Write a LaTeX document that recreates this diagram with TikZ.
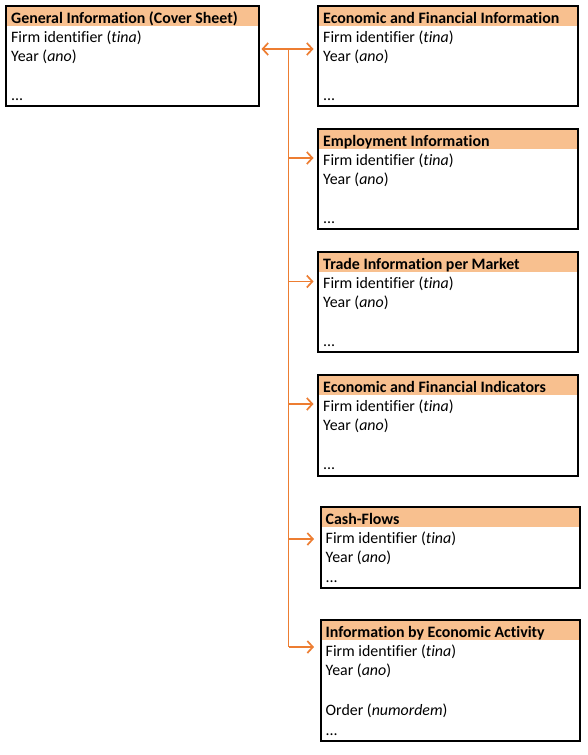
\documentclass[tikz,border=0pt]{standalone}
\usepackage{fontspec}
\setmainfont[Ligatures=NoCommon]{Carlito}
\usetikzlibrary{arrows.meta}
\definecolor{hdr}{HTML}{F8C08F}
\definecolor{arr}{HTML}{ED7D31}
\tikzset{
  boxline/.style={draw=black, line width=2pt},
  hdrtext/.style={anchor=base west, inner sep=0pt, font=\fontsize{15.9pt}{19pt}\selectfont\bfseries},
  rowtext/.style={anchor=base west, inner sep=0pt, font=\fontsize{15.9pt}{19pt}\selectfont},
  conn/.style={draw=arr, line width=1.7pt},
  tip/.style={-{Straight Barb[length=5.5pt,width=12pt,line width=1.7pt]}}
}
\newcommand\mkbox[6]{%
  \node[anchor=north west, minimum width=#4pt, minimum height=#5pt, inner sep=0pt, outer sep=0pt] (#1) at (#2,#3) {};
  \fill[hdr] (#1.north west) rectangle ([yshift=-20pt]#1.north east);
  \draw[boxline] (#1.north west) rectangle (#1.south east);
  \node[hdrtext] (#1-h) at ([xshift=5pt,yshift=-17pt]#1.north west) {#6};
}
\newcommand\rowat[3]{%
  \node[rowtext] (#1-#2) at ([xshift=5pt,yshift=-#2pt]#1.north west) {#3};
}
\begin{document}
\begin{tikzpicture}[x=1pt,y=-1pt]
\useasboundingbox (0,0) rectangle (587,755);
\fill[white] (0,0) rectangle (587,755);

\mkbox{b1}{6}{6}{253}{100}{General Information (Cover Sheet)}
\rowat{b1}{36.5}{Firm identifier (\textit{tina})}
\rowat{b1}{55.5}{Year (\textit{ano})}
\rowat{b1}{94.5}{...}

\mkbox{b2}{318}{6}{260}{100}{Economic and Financial Information}
\rowat{b2}{36.5}{Firm identifier (\textit{tina})}
\rowat{b2}{55.5}{Year (\textit{ano})}
\rowat{b2}{94.5}{...}

\mkbox{b3}{318}{129}{260}{100}{Employment Information}
\rowat{b3}{36.5}{Firm identifier (\textit{tina})}
\rowat{b3}{55.5}{Year (\textit{ano})}
\rowat{b3}{94.5}{...}

\mkbox{b4}{318}{252}{260}{100}{Trade Information per Market}
\rowat{b4}{36.5}{Firm identifier (\textit{tina})}
\rowat{b4}{55.5}{Year (\textit{ano})}
\rowat{b4}{94.5}{...}

\mkbox{b5}{318}{375}{260}{101}{Economic and Financial Indicators}
\rowat{b5}{36.5}{Firm identifier (\textit{tina})}
\rowat{b5}{55.5}{Year (\textit{ano})}
\rowat{b5}{94.5}{...}

\mkbox{b6}{320.5}{507}{259.5}{80.5}{Cash-Flows}
\rowat{b6}{36.5}{Firm identifier (\textit{tina})}
\rowat{b6}{55.5}{Year (\textit{ano})}
\rowat{b6}{75.5}{...}

\mkbox{b7}{320.5}{620}{259.5}{121}{Information by Economic Activity}
\rowat{b7}{36.5}{Firm identifier (\textit{tina})}
\rowat{b7}{55.5}{Year (\textit{ano})}
\rowat{b7}{95.5}{Order (\textit{numordem})}
\rowat{b7}{115.5}{...}

% connectors
\coordinate (top) at (288.5,49);
\coordinate (bot) at (288.5,647);
\draw[conn] (top) -- (bot);
\draw[conn,tip,shorten >=2.5pt] (top) -- (b1.east |- top);
\draw[conn,tip,shorten >=4.5pt] (top) -- (b2.west |- top);
\draw[conn,tip,shorten >=4.5pt] (top |- 0,158) -- (b3.west |- 0,158);
\draw[conn,tip,shorten >=4.5pt] (top |- 0,281.5) -- (b4.west |- 0,281.5);
\draw[conn,tip,shorten >=4.5pt] (top |- 0,404) -- (b5.west |- 0,404);
\draw[conn,tip,shorten >=6.5pt] (top |- 0,539) -- (b6.west |- 0,539);
\draw[conn,tip,shorten >=6.5pt] (bot) -- (b7.west |- bot);
\end{tikzpicture}
\end{document}
